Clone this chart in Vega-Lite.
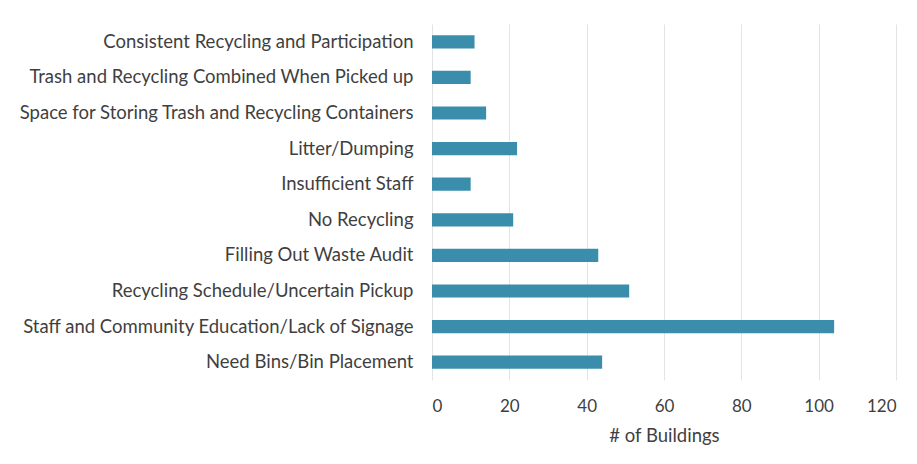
{
  "$schema": "https://vega.github.io/schema/vega-lite/v6.json",
  "width": 464,
  "height": 356,
  "autosize": "none",
  "padding": {"left": 432, "top": 24, "right": 21, "bottom": 84},
  "background": "white",
  "data": {
    "values": [
      {"issue": "Consistent Recycling and Participation", "buildings": 11},
      {"issue": "Trash and Recycling Combined When Picked up", "buildings": 10},
      {"issue": "Space for Storing Trash and Recycling Containers", "buildings": 14},
      {"issue": "Litter/Dumping", "buildings": 22},
      {"issue": "Insufficient Staff", "buildings": 10},
      {"issue": "No Recycling", "buildings": 21},
      {"issue": "Filling Out Waste Audit", "buildings": 43},
      {"issue": "Recycling Schedule/Uncertain Pickup", "buildings": 51},
      {"issue": "Staff and Community Education/Lack of Signage", "buildings": 104},
      {"issue": "Need Bins/Bin Placement", "buildings": 44}
    ]
  },
  "mark": {"type": "bar", "color": "#3a8eab"},
  "encoding": {
    "y": {
      "field": "issue",
      "type": "nominal",
      "sort": null,
      "scale": {"paddingInner": 0.63, "paddingOuter": 0.315},
      "axis": {
        "title": null,
        "ticks": false,
        "domain": false,
        "labelPadding": 19,
        "labelFont": "Lato",
        "labelFontSize": 18.5,
        "labelColor": "#3f3f3f",
        "labelLimit": 500
      }
    },
    "x": {
      "field": "buildings",
      "type": "quantitative",
      "scale": {"domain": [0, 120]},
      "axis": {
        "title": "# of Buildings",
        "values": [0, 20, 40, 60, 80, 100, 120],
        "ticks": false,
        "domain": false,
        "grid": true,
        "gridColor": "#e3e3e3",
        "gridWidth": 1,
        "labelPadding": 18,
        "labelFont": "Lato",
        "labelFontSize": 17,
        "labelColor": "#3f3f3f",
        "titleFont": "Lato",
        "titleFontSize": 18.5,
        "titleFontWeight": "normal",
        "titleColor": "#3f3f3f",
        "titlePadding": 12
      }
    }
  },
  "config": {"view": {"stroke": null}}
}
